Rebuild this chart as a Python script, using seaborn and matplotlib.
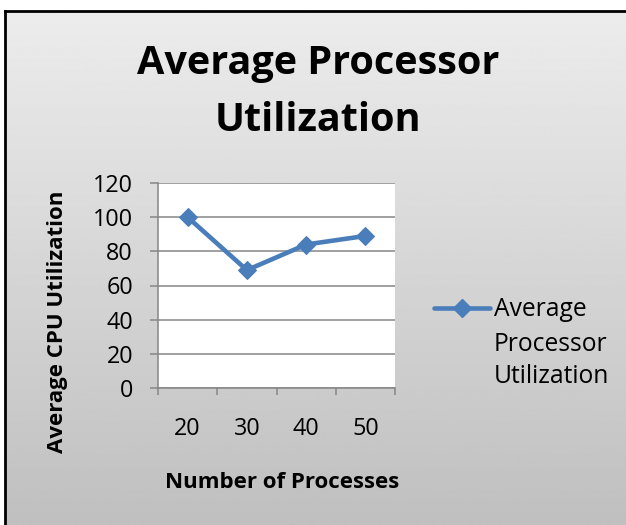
import numpy as np
import pandas as pd
import matplotlib
matplotlib.use("Agg")
import matplotlib.pyplot as plt
import seaborn as sns
from matplotlib.lines import Line2D

categories = ["20", "30", "40", "50"]
values = [100, 69, 84, 89]
yticks = [0, 20, 40, 60, 80, 100, 120]
series_name = "Average Processor Utilization"

sns.set_style("white")
plt.rcParams["font.family"] = ["Open Sans", "DejaVu Sans"]
plt.rcParams["text.color"] = "black"
plt.rcParams["axes.labelcolor"] = "black"
plt.rcParams["xtick.labelcolor"] = "black"
plt.rcParams["ytick.labelcolor"] = "black"

W, H = 626, 525
fig = plt.figure(figsize=(W / 100, H / 100), dpi=100)

# gradient background
bg = fig.add_axes([0, 0, 1, 1], zorder=-10)
grad = np.linspace(0.93, 0.75, 256).reshape(-1, 1)
bg.imshow(grad, cmap="gray", vmin=0, vmax=1, aspect="auto", extent=[0, 1, 0, 1])
bg.fill_between([0, 5 / W], 0, 1, color="white")
bg.fill_between([0, 1], 1 - 10 / H, 1, color="white")
bg.plot([5 / W, 5 / W], [0, 1 - 11 / H], color="black", linewidth=2, solid_capstyle="projecting")
bg.plot([5 / W, 1], [1 - 11 / H, 1 - 11 / H], color="black", linewidth=2, solid_capstyle="projecting")
bg.set_xlim(0, 1)
bg.set_ylim(0, 1)
bg.set_axis_off()

L, R, T, B = 158, 395, 183, 388
ax = fig.add_axes([L / W, 1 - B / H, (R - L) / W, (B - T) / H])
ax.set_facecolor("white")
df = pd.DataFrame({"x": np.arange(len(categories)), "y": values})
color = "#4a7ebb"
sns.lineplot(data=df, x="x", y="y", ax=ax, color=color, linewidth=3.3,
             marker="D", markersize=9, markeredgecolor=color, markerfacecolor=color)

grey = "#868686"
ax.set_xlim(-0.5, len(categories) - 0.5)
ax.set_ylim(0, 120)
ax.set_yticks(yticks)
ax.set_yticklabels([str(v) for v in yticks], fontsize=16.8)
ax.set_xticks(np.arange(len(categories)))
ax.set_xticklabels(categories, fontsize=16.8)
ax.set_xticks(np.arange(-0.5, len(categories)), minor=True)
ax.tick_params(axis="x", which="major", length=0, pad=21)
ax.tick_params(axis="x", which="minor", length=5, color=grey, width=1.1, direction="out", bottom=True)
ax.tick_params(axis="y", length=6, color=grey, width=1.1, direction="out", left=True, pad=12)
ax.yaxis.grid(True, color=grey, linewidth=1.1)
ax.xaxis.grid(False)
for s in ["top", "right"]:
    ax.spines[s].set_visible(False)
for s in ["left", "bottom"]:
    ax.spines[s].set_color(grey)
    ax.spines[s].set_linewidth(1.1)
ax.set_axisbelow(True)

ax.set_xlabel("Number of Processes", fontsize=16, fontweight="bold")
ax.xaxis.label.set_va("baseline")
ax.xaxis.set_label_coords((282 - L) / (R - L), (B - 488) / (B - T))
ax.set_ylabel("Average CPU Utilization", fontsize=16, fontweight="bold")
ax.yaxis.label.set_va("center")
ax.yaxis.label.set_rotation_mode("default")
ax.yaxis.set_label_coords((57 - L) / (R - L), (B - 322) / (B - T))

fig.text(318 / W, 1 - 92 / H, "Average Processor\nUtilization", ha="center", va="center",
         fontsize=28.5, fontweight="bold", linespacing=1.6)

handle = Line2D([], [], color=color, linewidth=3.3, marker="D", markersize=9,
                markeredgecolor=color, markerfacecolor=color)
fs_leg = 17.7
leg = fig.legend([handle], ["Average"], loc="center left",
                 bbox_to_anchor=(434 / W, 1 - 310 / H), frameon=False, fontsize=fs_leg,
                 handlelength=56 / (fs_leg * 1.389), handletextpad=4 / (fs_leg * 1.389),
                 borderpad=0, borderaxespad=0)
fig.text(494 / W, 1 - 351 / H, "Processor", ha="left", va="baseline", fontsize=fs_leg)
fig.text(494 / W, 1 - 383 / H, "Utilization", ha="left", va="baseline", fontsize=fs_leg)

fig.savefig("out.png", dpi=100)
